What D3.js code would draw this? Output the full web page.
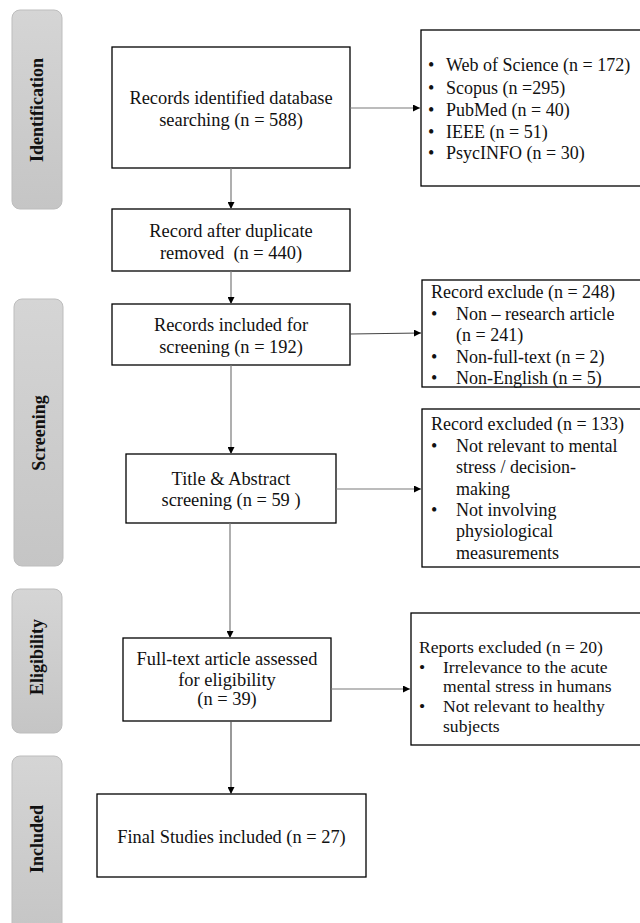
<!DOCTYPE html>
<html><head><meta charset="utf-8">
<script src="https://cdn.jsdelivr.net/npm/d3@7"></script>
<style>html,body{margin:0;padding:0;background:#fff;}svg{display:block;}</style>
</head><body>
<script>
// ---- data ----
const stageLabels = ["Identification", "Screening", "Eligibility", "Included"];
const mainBoxLines = [
  ["Records identified database", "searching (n = 588)"],
  ["Record after duplicate", "removed\u00a0 (n = 440)"],
  ["Records included for", "screening (n = 192)"],
  ["Title & Abstract", "screening (n = 59 )"],
  ["Full-text article assessed", "for eligibility", "(n = 39)"],
  ["Final Studies included (n = 27)"]
];
const sourceItems = ["Web of Science (n = 172)", "Scopus (n =295)", "PubMed (n = 40)", "IEEE (n = 51)", "PsycINFO (n = 30)"];
const exclusionHeaders = ["Record exclude (n = 248)", "Record excluded (n = 133)", "Reports excluded (n = 20)"];
const exclusionItems = [
  [["Non \u2013 research article", "(n = 241)"], ["Non-full-text (n = 2)"], ["Non-English (n = 5)"]],
  [["Not relevant to mental", "stress / decision-", "making"], ["Not involving", "physiological", "measurements"]],
  [["Irrelevance to the acute", "mental stress in humans"], ["Not relevant to healthy", "subjects"]]
];

// ---- layout ----
const W = 640, H = 923;
const svg = d3.select("body").append("svg").attr("width", W).attr("height", H);
const FONT = "Liberation Serif";

const defs = svg.append("defs");
const grad = defs.append("linearGradient").attr("id", "g").attr("x1", 0).attr("y1", 0).attr("x2", 0).attr("y2", 1);
grad.append("stop").attr("offset", "0%").attr("stop-color", "#d5d5d5");
grad.append("stop").attr("offset", "100%").attr("stop-color", "#c5c5c5");
defs.append("marker").attr("id", "ah").attr("viewBox", "0 0 10 10").attr("refX", 10).attr("refY", 5)
  .attr("markerWidth", 7).attr("markerHeight", 7).attr("markerUnits", "userSpaceOnUse").attr("orient", "auto")
  .append("path").attr("d", "M0,0L10,5L0,10Z").attr("fill", "#000");

// stage labels
const stageLayout = [
  {x: 12, y: 10, w: 50, h: 199},
  {x: 14, y: 299, w: 49, h: 267},
  {x: 12, y: 589, w: 50, h: 144},
  {x: 12, y: 756, w: 50, h: 180}
];
const stageTextCY = [110, 433, 657, 839];
stageLabels.forEach((s, i) => {
  const L = stageLayout[i];
  svg.append("rect").attr("x", L.x).attr("y", L.y).attr("width", L.w).attr("height", L.h)
    .attr("rx", 8).attr("fill", "url(#g)").attr("stroke", "#bdbdbd").attr("stroke-width", 1);
  const cx = L.x + L.w / 2;
  svg.append("text").attr("transform", `translate(${cx + 6},${stageTextCY[i]}) rotate(-90)`)
    .attr("text-anchor", "middle").style("font-family", FONT).attr("font-weight", "bold")
    .attr("font-size", 18).attr("fill", "#111").text(s);
});

// main boxes
const mainLayout = [
  {x: 112, y: 47, w: 238, h: 121, ty: [98, 120]},
  {x: 112, y: 209, w: 238, h: 62, ty: [231, 253]},
  {x: 112, y: 304, w: 238, h: 61, ty: [325, 347]},
  {x: 126, y: 454, w: 210, h: 69, ty: [479, 500]},
  {x: 123, y: 638, w: 208, h: 83, ty: [659, 680, 699]},
  {x: 97, y: 794, w: 269, h: 83, ty: [837]}
];
mainBoxLines.forEach((lines, i) => {
  const L = mainLayout[i];
  svg.append("rect").attr("x", L.x).attr("y", L.y).attr("width", L.w).attr("height", L.h)
    .attr("fill", "#fff").attr("stroke", "#000").attr("stroke-width", 1.3);
  lines.forEach((t, j) => {
    svg.append("text").attr("x", L.x + L.w / 2).attr("y", L.ty[j]).attr("dy", "0.35em")
      .attr("text-anchor", "middle").style("font-family", FONT).attr("font-size", 18.4)
      .attr("fill", "#111").text(t);
  });
});

// side boxes
const sideLayout = [
  {x: 421, y: 30, w: 230, h: 156},
  {x: 422, y: 280, w: 230, h: 107},
  {x: 422, y: 409, w: 230, h: 158},
  {x: 411, y: 613, w: 240, h: 132}
];
sideLayout.forEach(L => {
  svg.append("rect").attr("x", L.x).attr("y", L.y).attr("width", L.w).attr("height", L.h)
    .attr("fill", "#fff").attr("stroke", "#000").attr("stroke-width", 1.3);
});
function txt(x, y, t, fs) {
  svg.append("text").attr("x", x).attr("y", y).attr("dy", "0.35em").style("font-family", FONT)
    .attr("font-size", fs).attr("fill", "#111").text(t);
}
// sources
const srcY = [65, 88, 110, 132, 153];
sourceItems.forEach((t, i) => { txt(428, srcY[i], "\u2022", 18); txt(446, srcY[i], t, 18); });

// exclusions
const exclLayout = [
  {hx: 431, bx: 431, tx: 456, y0: 292, dy: 21.5, fs: 18},
  {hx: 431, bx: 431, tx: 456, y0: 424, dy: 21.4, fs: 18},
  {hx: 419, bx: 419, tx: 443, y0: 647, dy: 19.6, fs: 17.6}
];
exclusionHeaders.forEach((h, i) => {
  const L = exclLayout[i];
  let y = L.y0;
  txt(L.hx, y, h, L.fs);
  exclusionItems[i].forEach(item => {
    item.forEach((line, k) => {
      y += L.dy;
      if (k === 0) txt(L.bx, y, "\u2022", L.fs);
      txt(L.tx, y, line, L.fs);
    });
  });
});

// arrows
function arrow(x1, y1, x2, y2, col) {
  svg.append("line").attr("x1", x1).attr("y1", y1).attr("x2", x2).attr("y2", y2)
    .attr("stroke", col || "#7a7a7a").attr("stroke-width", 1.2).attr("marker-end", "url(#ah)");
}
arrow(231, 168, 231, 209);
arrow(231, 271, 231, 304);
arrow(231, 365, 231, 454);
arrow(230, 523, 230, 638);
arrow(231, 721, 231, 794, "#555");
arrow(350, 108, 420, 108);
arrow(350, 334, 421, 333, "#444");
arrow(336, 489, 421, 489);
arrow(331, 689, 410, 689);
</script>
</body></html>
